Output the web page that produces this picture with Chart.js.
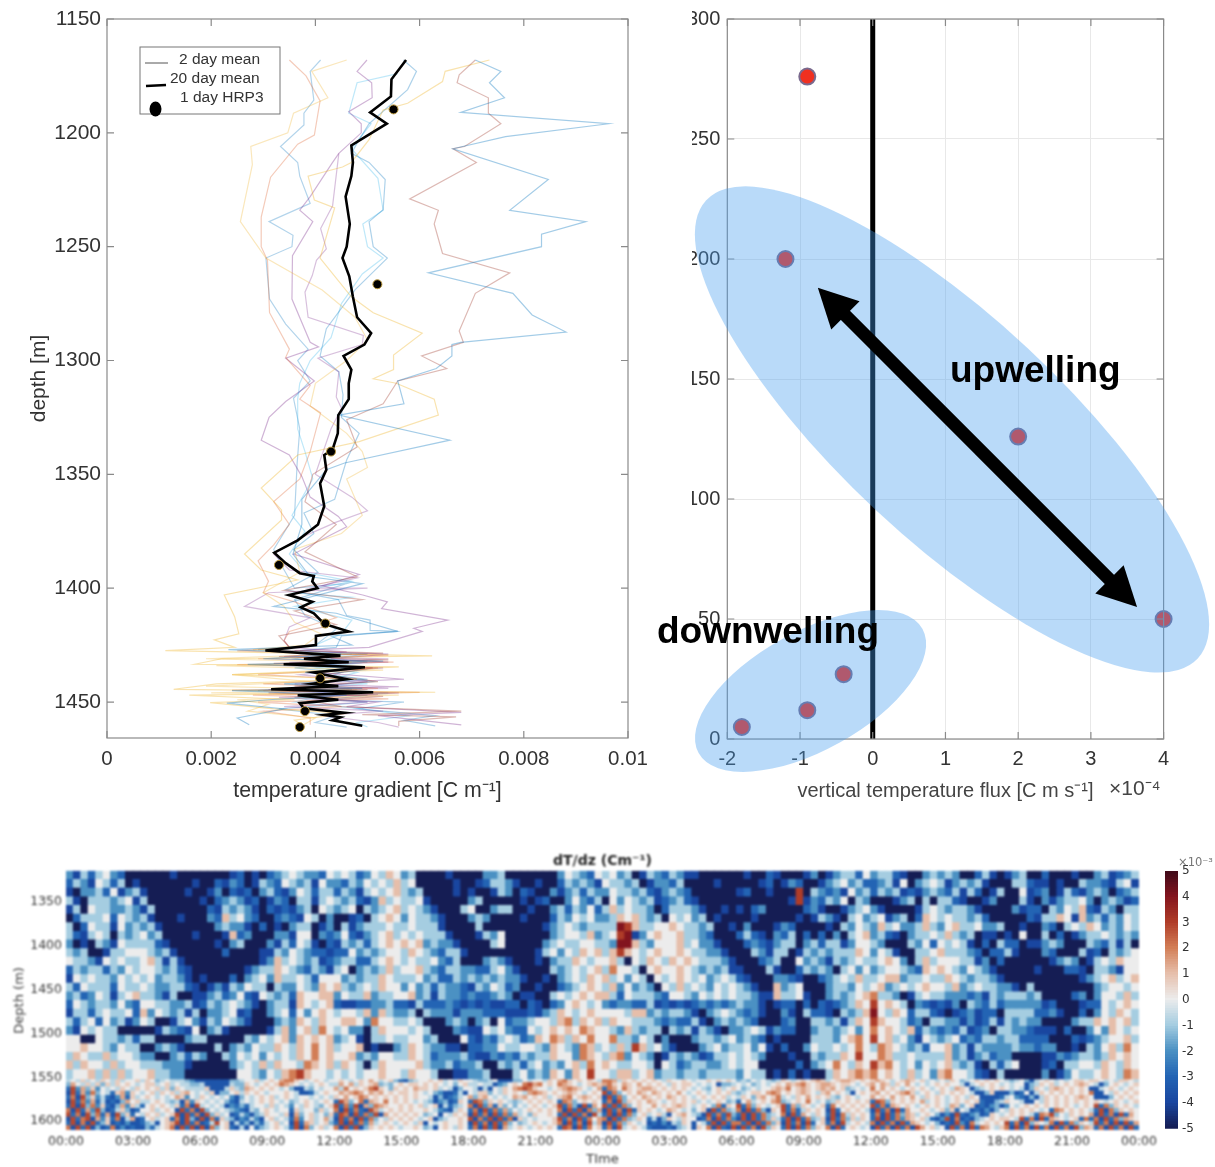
<!DOCTYPE html>
<html>
<head>
<meta charset="utf-8">
<title>Temperature gradient and flux</title>
<script src="https://cdn.jsdelivr.net/npm/chart.js@4/dist/chart.umd.js"></script>
<style>
  html, body { margin: 0; padding: 0; background: #fff; }
  body { position: relative; width: 1215px; height: 1167px; overflow: hidden; }
  canvas { position: absolute; }
  #heat { filter: blur(0.9px); }
  #grad, #flux { filter: blur(0.4px); }
</style>
</head>
<body>
<canvas id="grad" width="670" height="820" style="left:0;top:0"></canvas>
<canvas id="flux" width="575" height="820" style="left:640px;top:0"></canvas>
<canvas id="heat" width="1215" height="327" style="left:0;top:840px"></canvas>
<canvas id="cbar" width="65" height="290" style="left:1150px;top:850px"></canvas>
<script>
// left panel: [gradient x 1e-3, depth]
const gradBlueFar = [[7.07,1168],[7.56,1173],[7.34,1178],[7.63,1184.6],[6.79,1191],[9.63,1196],[7.65,1201.7],[6.64,1207],[8.47,1220.5],[7.73,1234],[9.19,1239],[8.34,1244.5],[8.34,1250],[6.17,1261.5],[7.79,1270.5],[8.16,1280],[8.81,1287.5],[6.79,1292],[6.62,1293],[6.62,1298],[6.32,1303.5],[5.58,1309],[5.7,1319],[4.45,1324],[6.58,1335],[4.56,1345],[4.21,1348],[3.74,1361],[3.74,1372],[3.57,1385],[3.9,1395],[4.9,1398],[3.2,1408],[4.4,1411],[5.58,1419],[4.3,1421],[4.7,1425],[2.33,1427],[4.5,1429],[3.0,1431],[5.3,1432],[2.7,1433.5],[4.8,1435],[3.8,1437],[5.0,1440],[3.4,1442],[4.9,1444],[2.4,1445],[4.6,1447],[3.1,1449],[2.3,1450.5],[3.4,1453],[2.5,1457],[2.73,1460]];
const gradRust = [[7.07,1168],[6.76,1174.5],[6.72,1178],[7.32,1184.6],[7.32,1191.4],[7.56,1196],[6.86,1206],[6.64,1207],[7.09,1213],[5.81,1229],[6.36,1234],[6.28,1240],[6.44,1253],[7.73,1261.5],[7.07,1270.5],[6.76,1287],[6.84,1292],[6.04,1298],[6.52,1303.5],[5.58,1309],[5.3,1319],[4.6,1326],[4.8,1338],[3.95,1350],[3.8,1362],[4.4,1372],[3.8,1384],[4.8,1395],[3.4,1401],[4.9,1405],[3.6,1410],[4.4,1416],[3.3,1421],[3.5,1426],[3.1,1427],[5.3,1428.5],[3.3,1430],[5.4,1431.5],[3.2,1433],[5.1,1435],[4.2,1438],[5.2,1441],[3.6,1443],[5.0,1444.5],[3.1,1446],[5.3,1447.5],[3.9,1449.5],[4.5,1452],[6.8,1454],[4.9,1455.5],[6.7,1456.5],[5.6,1458.5],[5.6,1460.5]];
const gradYellowRight = [[7.34,1168],[6.49,1173],[6.44,1177.5],[5.77,1187],[5.3,1190],[5.03,1203],[4.69,1213],[4.52,1215],[3.86,1219],[3.98,1229.5],[4.37,1233],[4.09,1255],[4.69,1272],[5.11,1279],[6.05,1288],[5.5,1297.6],[5.5,1304],[5.11,1308],[5.55,1310],[6.28,1317],[6.36,1324],[4.84,1335.6],[3.66,1341.5],[2.96,1356],[3.35,1365.6],[3.35,1370],[2.64,1385],[2.96,1392],[3.66,1396.4],[2.25,1403],[2.45,1412.5],[2.53,1420],[2.06,1422.7],[2.45,1426],[1.12,1427.4],[6.24,1429.7],[2.2,1431],[1.69,1433.4],[5.6,1434.6],[2.4,1438],[4.8,1440],[2.1,1442],[1.28,1444.4],[6.3,1445.7],[1.58,1447],[3.6,1449],[1.98,1450.3],[3.2,1453],[4.6,1455],[3.6,1458],[3.8,1461]];
const gradYellowLeft = [[4.6,1168],[3.93,1173],[4.24,1184.6],[3.58,1191.4],[3.47,1200],[2.76,1206],[2.79,1214],[2.56,1239],[3.05,1255],[4.13,1269],[4.76,1281],[5.0,1291],[4.6,1300],[4.0,1310],[3.9,1320],[4.6,1332],[4.9,1340],[5.0,1347],[4.6,1352],[4.9,1368],[4.5,1376],[3.6,1383],[3.7,1393],[3.0,1402],[3.4,1408],[3.6,1415],[4.1,1420],[3.8,1425],[2.8,1427],[4.4,1429],[1.9,1431],[4.7,1432.5],[2.1,1434],[5.3,1436],[2.4,1438],[3.9,1441],[1.9,1443],[4.8,1444.6],[2.0,1446],[5.6,1447],[2.5,1449],[3.1,1451],[2.7,1454],[4.0,1457],[3.7,1461]];
const gradOrange = [[3.5,1168],[3.82,1175],[4.09,1186],[3.98,1201],[3.66,1205],[3.14,1219.5],[2.96,1237],[2.96,1250],[3.08,1256],[3.12,1279],[3.5,1295],[3.43,1298.6],[3.9,1311],[3.7,1317],[4.1,1323],[3.9,1340],[3.7,1352],[3.2,1362],[3.5,1372],[3.2,1381],[2.9,1388],[3.1,1397],[3.0,1402],[3.6,1406],[4.4,1413],[3.5,1419],[3.4,1423],[3.5,1426],[2.5,1427.5],[5.4,1429.5],[2.9,1431],[5.5,1432.5],[2.5,1433.6],[5.2,1435],[2.9,1438],[4.8,1440],[3.0,1442],[5.2,1444],[2.4,1444.8],[6.0,1445.8],[2.8,1447],[5.4,1448.6],[2.9,1450],[4.5,1452],[3.0,1454],[3.9,1457],[3.9,1460]];
const gradPurple = [[4.99,1168],[4.8,1173],[5.08,1178],[5.09,1184.6],[4.64,1190.7],[4.88,1196],[4.88,1200],[4.45,1209],[4.33,1213],[3.9,1228],[3.7,1234],[3.95,1239],[3.56,1254],[3.55,1273],[3.9,1292],[4.06,1294],[3.43,1299],[3.98,1309],[3.43,1318],[3.11,1325],[2.96,1335],[3.5,1341.5],[3.74,1351],[3.9,1360],[4.44,1368.5],[4.6,1373],[3.58,1385],[4.84,1394],[4.13,1399],[4.91,1403],[5.38,1406],[5.27,1409],[6.54,1414],[5.89,1417.6],[6.05,1419],[5.03,1426],[3.6,1427.4],[5.4,1429],[4.3,1431],[5.4,1432.5],[3.5,1433.8],[5.3,1435],[4.0,1437],[5.7,1440],[3.6,1442],[5.6,1443.3],[3.1,1444.5],[5.6,1446],[3.9,1448],[5.2,1450],[4.6,1452],[6.8,1454.6],[5.2,1456],[6.8,1460]];
const gradPurpleMid = [[4.45,1209],[4.33,1232],[4.1,1242],[4.21,1251],[4.02,1256],[3.94,1262.7],[3.8,1270],[3.86,1281],[4.92,1289],[4.9,1293],[4.05,1299],[4.45,1305],[4.4,1316],[4.5,1321],[4.3,1330],[4.0,1350],[4.7,1360],[5.0,1366],[4.4,1371],[3.7,1378],[3.2,1385],[3.5,1392],[4.8,1395.5],[3.9,1400],[5.0,1400],[3.1,1402],[2.64,1408],[3.9,1413],[3.5,1417],[3.4,1423],[3.5,1426],[4.6,1428],[3.4,1430],[5.4,1431],[3.5,1432.6],[4.9,1435],[3.7,1438],[5.0,1441],[4.1,1443],[5.4,1444],[3.0,1445],[5.2,1446.6],[3.3,1448],[5.0,1450],[3.4,1452],[5.3,1454],[4.1,1456],[5.2,1459],[5.6,1461]];
const gradBlueMid = [[5.69,1168],[5.94,1173],[5.77,1181],[5.03,1196],[4.84,1203],[4.69,1209],[5.03,1213],[5.34,1220.5],[5.3,1233.8],[5.03,1239],[5.11,1250],[5.38,1255],[4.76,1269],[4.21,1286],[4.09,1298],[4.45,1305],[4.53,1315],[4.5,1325],[4.84,1332],[4.6,1343.7],[4.37,1361],[3.78,1367],[3.97,1376],[3.58,1383],[4.05,1393],[3.43,1400.7],[4.44,1405],[4.6,1412],[5.05,1414],[5.05,1418.5],[5.58,1419],[4.5,1421],[4.4,1426],[3.7,1427.4],[5.0,1429],[4.2,1431],[5.0,1432.5],[4.0,1434],[4.9,1436],[4.1,1438],[5.1,1441],[4.0,1443],[4.7,1444.4],[3.5,1445],[5.0,1447],[4.2,1449],[5.7,1450],[4.8,1453],[6.3,1456],[5.7,1458],[6.3,1460.5]];
const gradCyan = [[5.58,1174],[4.8,1178],[4.64,1191.4],[5.07,1196],[4.69,1207],[5.2,1220],[5.3,1234],[4.91,1240],[5.0,1250],[5.3,1255],[4.9,1262],[4.5,1275],[4.3,1290],[3.9,1300],[3.7,1310],[3.66,1317],[3.66,1330],[3.8,1340],[3.95,1352],[3.55,1368],[3.8,1375],[3.5,1385],[3.8,1393],[4.7,1397],[3.6,1402],[4.7,1404],[3.6,1408],[4.7,1414],[4.5,1420],[4.0,1425],[3.3,1427],[4.7,1429],[3.9,1431],[4.8,1433],[4.0,1435],[4.8,1437],[4.3,1440],[5.0,1442],[3.5,1444],[4.7,1446],[4.0,1448],[3.6,1450],[4.9,1453],[5.8,1456],[4.8,1459],[5.0,1461]];
const gradSteel = [[4.1,1168],[3.9,1173],[3.97,1185.6],[3.78,1191.4],[3.78,1196.5],[3.33,1206],[3.66,1213],[3.7,1219],[3.9,1231],[3.11,1239],[3.57,1245],[3.55,1250],[3.05,1255],[3.12,1273],[3.43,1284],[3.86,1295],[3.66,1300],[3.9,1309],[3.58,1316.6],[3.7,1330],[3.65,1345],[3.6,1368],[3.2,1383],[3.4,1392],[3.6,1400],[4.6,1398],[3.6,1405],[3.8,1412],[4.4,1418],[4.0,1425],[2.9,1427],[4.1,1429],[3.6,1431],[4.5,1433],[3.6,1435],[4.5,1437],[4.0,1441],[4.4,1443],[2.9,1445],[5.4,1446],[3.6,1448],[5.0,1450],[3.3,1453],[4.4,1456],[4.0,1459],[4.6,1461]];
const gradMean20 = [[5.74,1168],[5.46,1176.5],[5.45,1184],[5.05,1191],[5.37,1196],[4.69,1205.5],[4.72,1213],[4.69,1219],[4.58,1228],[4.66,1240],[4.6,1250],[4.52,1255],[4.65,1263],[4.72,1272],[4.8,1281],[5.07,1288],[4.94,1293],[4.54,1298],[4.69,1304],[4.64,1310],[4.64,1317],[4.44,1324],[4.43,1332],[4.33,1339],[4.17,1341.5],[4.21,1348],[4.09,1354],[4.17,1364],[4.05,1372],[3.66,1379],[3.21,1384.4],[3.43,1389],[3.7,1393.4],[3.97,1394.6],[3.94,1397],[4.04,1400],[3.49,1403],[3.94,1406],[3.72,1408.4],[3.97,1411],[4.17,1415.7],[4.64,1419],[4.01,1421],[4.01,1425],[3.04,1427.4],[4.48,1429.6],[3.78,1431],[4.64,1432.5],[3.39,1433.4],[4.95,1434.7],[3.97,1437],[4.6,1440],[3.94,1442],[4.44,1443],[3.15,1444.4],[5.11,1445.7],[3.66,1447],[4.44,1449],[3.7,1450.5],[3.78,1452.7],[4.56,1454.7],[4.17,1455.7],[4.48,1456.7],[4.33,1458],[4.9,1460.4]];
const hrp3Points = [[5.5,1189.7],[5.19,1266.5],[4.3,1340],[3.3,1389.8],[4.19,1415.5],[4.09,1439.6],[3.8,1454],[3.7,1461]];
const gradTicks = [0,2,4,6,8,10];
const depthTicks = [1150,1200,1250,1300,1350,1400,1450];

// right panel
const fluxValues = [-0.9,-1.2,2,4,-0.4,-0.9,-1.8];
const fluxDepths = [276,200,126,50,27,12,5];
const fluxXTicks = [-2,-1,0,1,2,3,4];
const fluxYTicks = [0,50,100,150,200,250,300];

// bottom panel, one digit per cell: digit - 5 = dT/dz x 1e-3
// upper part, 1315-1551 m: 20 min columns, top row first
const heatBlockA = [
"314245320 000001000 000012010 234543325",
"243154240 100000001 002132014 325434153",
"103342513 410000010 013021203 421354244",
"410444345 140000000 102343120 132044145",
"140544334 314000000 021434310 212134054",
"024445254 341000100 032645320 023215403",
"402544153 434100000 003433102 010344013",
"421454043 453400001 000162300 033155032",
"301043154 444210000 001034000 314254102",
"434001445 554341000 000200001 143543221",
"544315454 456414100 000000001 364543412",
"243442435 455434210 000000134 465432431",
"154544354 545344310 100020345 364454255",
"425444254 454334421 013143544 043354365",
"342354145 644314001 134235215 434265566",
"254344353 255443341 243454310 344165456",
"144245445 263543414 033451200 345253565",
"424525341 354001453 143543100 034365465",
"315454400 000143215 034100000 146356475",
"550054434 244000034 400000435 456365656",
"556554354 400343100 004034354 465465756",
"465446455 433003424 300435453 545465756",
"646554645 544433310 000034546 465547656",
"455646464 556443300 000005543 546786554"];
const heatBlockB = [
"454235465 340000100 003340000 000354325",
"324354546 450000010 012443100 100243431",
"243145456 434000010 100143021 003134243",
"434213645 445100000 340000010 120035324",
"345043456 454310004 500344001 003424352",
"001204565 354431000 343000010 002435453",
"041344454 454441000 040000000 013454344",
"352134564 545444100 014350000 003455463",
"143424565 656343310 000450000 034544554",
"225343455 465432441 000000000 145354656",
"344224565 454453240 003431000 103446545",
"450343464 556432443 322453100 004345456",
"534344654 445342243 434343310 010345465",
"643454655 353424332 143542300 100234565",
"354463445 563414332 322343011 004545656",
"211223342 214222321 212112202 102356545",
"455463643 340433313 332221112 134654565",
"566537554 454000343 034052334 554674656",
"453304655 545400032 115453225 456565765",
"345104454 455340005 213245423 657646575",
"455601003 465433110 223354455 436543764",
"556343554 465423334 211323243 446553765",
"465404655 556433423 340043424 534356475",
"545455655 465540011 334000453 436536585"];
const heatBlockC = [
"453401432 431100000 010021000 130134425",
"544340133 240000100 000120132 001345342",
"354434213 432000000 120010008 043231534",
"053543412 342100000 000000018 132435043",
"464544302 444310010 102300000 231001345",
"346564340 545340100 001000001 014310453",
"449864455 654434001 030001320 000104354",
"458913565 564432000 242103240 202030456",
"439964355 564533100 023213440 342441355",
"468654565 565443310 004314401 434344465",
"564054654 656544431 000234005 343143454",
"475540565 565434341 100041002 434304535",
"645354054 565453454 210003321 002345464",
"463534305 464543545 431006345 000344354",
"642544432 554354545 443116445 100343456",
"323322412 121232323 433101220 202123465",
"555466343 443103454 323100310 422104346",
"465544432 322410343 432000230 044341465",
"543643440 434143103 345413220 034434535",
"574435403 000344345 343201000 044435675",
"546486453 100034534 453510200 354454575",
"467354301 434312445 454300010 043446585",
"654455405 423443345 455000002 034575465",
"546645634 434434444 354401020 100465676"];
const heatBlockD = [
"344210034 343002410 134002000 100341234",
"234150345 413434100 044211010 043321451",
"243412134 324142014 005123014 213430234",
"000134040 442100130 004103134 453034312",
"310000145 434431000 031220435 462143044",
"451340265 454434200 000214465 163424354",
"364533464 356445334 001003204 546534354",
"342103445 464340110 105004020 134454343",
"430004352 545410204 220113430 004324140",
"354100445 644432022 410003200 041204345",
"456530464 555441302 000000134 301454655",
"345543265 654354310 000010002 210443155",
"456634454 465434431 000000000 013456456",
"563454565 546345443 310400000 000345545",
"744301454 433323143 444340000 230355464",
"856540321 213043242 333331200 012254565",
"954652442 101231220 444422310 020354654",
"865542304 433131241 434330000 344656564",
"756546243 232412304 433211102 003536545",
"856453154 345232443 442222000 212345564",
"476543425 563414333 343323300 104356475",
"576445444 463413423 300001132 344346565",
"867545354 564341042 450001204 455465465",
"756546453 675542104 000003013 544565476"];
// lower part, 1551-1610 m: finer, 40/3 min columns
const heatDeepA = [
"454645465 464556465 345444320 000000334 556456578 865456545",
"375464636 465654566 456454433 400000433 654565687 654545654",
"192736254 546546565 646365444 460004643 765656545 300435455",
"091728354 167265456 465646754 546033564 656545556 540014565",
"180936241 027164565 454576254 654545203 545656456 545545454",
"091827140 103756445 654340726 545453104 545656545 345654565",
"190938261 037264156 565461809 454540213 145546454 254654356",
"809172930 146301556 456509180 935454321 043565455 164553645",
"918093817 093615465 645690918 093645014 203465546 073564536",
"091890726 180470156 456180930 908164302 142056454 182564574",
"190809136 010200134 056790918 014956041 303145645 091764563",
"809190301 802010031 456809190 908356104 051345654 190835645"];
const heatDeepB = [
"565456575 456310345 565645465 543345000 335455465 786565654",
"475746567 343565665 656545356 445440235 658978565 876545676",
"748565689 653656576 656454035 540405465 789865545 678765457",
"576787576 756566565 453200140 546635465 654787656 567654565",
"657568756 565656565 540301245 736754545 767565645 678567656",
"197358176 585656545 430230165 198365654 345656565 187356565",
"918290738 765565656 456041345 809271635 354565456 918309175",
"809181097 456565655 654210465 180918273 545656565 809190837",
"198091829 075656565 345054656 091809182 745365565 190918094",
"091809183 546565654 560345565 908190918 064545556 918091857",
"190918274 565456546 054565565 091809183 534565456 809180947",
"809190365 656545565 340565465 180919074 565456565 198091856"];
const heatDeepC = [
"887465656 565465565 455656565 343545434 654565676 456776565",
"786576575 656546566 545450334 545345456 576786567 765665456",
"187586567 765656565 454356456 534545567 685676567 675634545",
"918356576 576565754 565456564 345665787 565676546 756540565",
"091835657 656576565 456565645 465367568 454657565 643565455",
"180936565 765456565 645456534 157456578 345658545 346565656",
"919183565 575656765 456538165 918365456 917365456 185656565",
"091809165 654576545 356091834 809183065 918146565 091565654",
"190918356 456405675 430918193 190918345 809175465 190846565",
"809183465 140365465 501809182 090918364 190918346 091836465",
"091836545 010204365 054190918 819091836 091809156 180945654",
"180945654 100010345 065809109 091809365 190918365 809156545"];
const heatDeepD = [
"676545676 564545465 345656565 434530456 545456656 654546654",
"757646575 454565655 404565654 545503465 645656765 403565456",
"857565456 565456547 650345656 545403654 676565650 045654565",
"675656786 456546565 654003600 030150465 656565658 005465656",
"756575657 546565456 546500001 452103046 565656765 000356565",
"198365656 574565456 565610034 655400546 565656565 654565456",
"918176565 456565476 356010230 254565656 565654565 918365654",
"091809175 565456361 540102035 465656545 187565654 190836565",
"180918376 456530209 102301654 565654187 935465657 091809175",
"190918276 564102908 010345656 654918091 765456181 809183765",
"809180917 654530109 208456565 918093654 809183654 918090917",
"091809180 975645091 809187546 809180918 091809376 180918091"];
// the deep digits were read coarsely, their swing is about 0.7 of the digit range
const deepSwing = 0.7;
const heatDepthTicks = [1350,1400,1450,1500,1550,1600];
const timeTicks = [0,3,6,9,12,15,18,21,24,27,30,33,36,39,42,45,48];
const timeLabels = ['00:00','03:00','06:00','09:00','12:00','15:00','18:00','21:00','00:00','03:00','06:00','09:00','12:00','15:00','18:00','21:00','00:00'];
const colorbarTicks = [-5,-4,-3,-2,-1,0,1,2,3,4,5];

Chart.defaults.font.family = '"Liberation Sans", sans-serif';
Chart.defaults.animation = false;
Chart.defaults.responsive = false;
Chart.defaults.devicePixelRatio = 1;
Chart.defaults.plugins.legend.display = false;
Chart.defaults.plugins.tooltip.enabled = false;

const toXY = (pairs) => pairs.map((p) => ({ x: p[0], y: p[1] }));
const thinLine = (pairs, color) => ({
  data: toXY(pairs), showLine: true, borderColor: color, borderWidth: 1.2,
  pointRadius: 0, order: 3,
});
const plainTick = (v) => String(v);

// gray box with inward ticks on all four sides
const boxTicks = {
  id: 'boxTicks',
  afterDatasetsDraw(chart) {
    const { ctx, chartArea: a, scales: { x, y } } = chart;
    ctx.save();
    ctx.strokeStyle = '#8a8a8a';
    ctx.lineWidth = 1.2;
    ctx.strokeRect(a.left, a.top, a.right - a.left, a.bottom - a.top);
    ctx.beginPath();
    x.ticks.forEach((t) => {
      const p = x.getPixelForValue(t.value);
      ctx.moveTo(p, a.bottom); ctx.lineTo(p, a.bottom - 7);
      ctx.moveTo(p, a.top); ctx.lineTo(p, a.top + 7);
    });
    y.ticks.forEach((t) => {
      const p = y.getPixelForValue(t.value);
      ctx.moveTo(a.left, p); ctx.lineTo(a.left + 7, p);
      ctx.moveTo(a.right, p); ctx.lineTo(a.right - 7, p);
    });
    ctx.stroke();
    ctx.restore();
  },
};

// hand made legend of the left panel
const gradLegend = {
  id: 'gradLegend',
  afterDraw(chart) {
    const { ctx } = chart;
    ctx.save();
    ctx.fillStyle = '#fff';
    ctx.strokeStyle = '#777';
    ctx.lineWidth = 1;
    ctx.fillRect(140, 47, 140, 67);
    ctx.strokeRect(140, 47, 140, 67);
    ctx.strokeStyle = '#555';
    ctx.beginPath(); ctx.moveTo(145, 63); ctx.lineTo(168, 63); ctx.stroke();
    ctx.strokeStyle = '#000';
    ctx.lineWidth = 2.6;
    ctx.beginPath(); ctx.moveTo(146, 86); ctx.lineTo(166, 85); ctx.stroke();
    ctx.fillStyle = '#000';
    ctx.beginPath(); ctx.ellipse(155.5, 109, 6, 7.5, 0, 0, Math.PI * 2); ctx.fill();
    ctx.fillStyle = '#333';
    ctx.font = '15.5px "Liberation Sans"';
    ctx.textBaseline = 'middle';
    ctx.fillText('2 day mean', 179, 60);
    ctx.fillText('20 day mean', 170, 79);
    ctx.fillText('1 day HRP3', 180, 98);
    ctx.restore();
  },
};

const fluxOverlay = {
  id: 'fluxOverlay',
  afterDraw(chart) {
    const { ctx, scales: { x, y } } = chart;
    ctx.save();
    // the tick labels are cut on the left in the original
    ctx.fillStyle = '#fff';
    ctx.fillRect(0, 0, 52, 520);
    // clusters
    ctx.fillStyle = 'rgba(69,157,240,0.376)';
    ctx.beginPath();
    ctx.ellipse(x.getPixelForValue(1.09), y.getPixelForValue(129), 336, 111, 43 * Math.PI / 180, 0, Math.PI * 2);
    ctx.fill();
    ctx.beginPath();
    ctx.ellipse(x.getPixelForValue(-0.855), y.getPixelForValue(20), 128, 59.3, -29 * Math.PI / 180, 0, Math.PI * 2);
    ctx.fill();
    // double arrow
    const x1 = x.getPixelForValue(-0.755), y1 = y.getPixelForValue(188);
    const x2 = x.getPixelForValue(3.635), y2 = y.getPixelForValue(55);
    const ang = Math.atan2(y2 - y1, x2 - x1);
    const ux = Math.cos(ang), uy = Math.sin(ang);
    ctx.strokeStyle = '#000';
    ctx.lineWidth = 13;
    ctx.beginPath();
    ctx.moveTo(x1 + ux * 30, y1 + uy * 30);
    ctx.lineTo(x2 - ux * 30, y2 - uy * 30);
    ctx.stroke();
    ctx.fillStyle = '#000';
    [[x1, y1, 1], [x2, y2, -1]].forEach(([tx, ty, s]) => {
      const bx = tx + s * ux * 39, by = ty + s * uy * 39;
      ctx.beginPath();
      ctx.moveTo(tx, ty);
      ctx.lineTo(bx - uy * 20, by + ux * 20);
      ctx.lineTo(bx + uy * 20, by - ux * 20);
      ctx.closePath();
      ctx.fill();
    });
    ctx.font = 'bold 37px "Liberation Sans"';
    ctx.textBaseline = 'middle';
    ctx.fillText('upwelling', 310, 372);
    ctx.font = 'bold 37px "Liberation Sans"';
    ctx.fillText('downwelling', 17, 633);
    ctx.fillStyle = '#444';
    ctx.font = '21px "Liberation Sans"';
    ctx.fillText('\u00d710\u207b\u2074', 469, 789);
    ctx.restore();
  },
};

new Chart(document.getElementById('grad'), {
  type: 'scatter',
  data: {
    datasets: [
      { data: toXY(hrp3Points), backgroundColor: '#000', borderColor: '#b8963c', borderWidth: 1, pointRadius: 4.5, order: 0 },
      { data: toXY(gradMean20), showLine: true, borderColor: '#000', borderWidth: 2.6, pointRadius: 0, order: 1 },
      thinLine(gradBlueFar, 'rgba(0,114,189,0.36)'),
      thinLine(gradRust, 'rgba(162,60,47,0.36)'),
      thinLine(gradYellowRight, 'rgba(237,177,32,0.36)'),
      thinLine(gradYellowLeft, 'rgba(237,177,32,0.3)'),
      thinLine(gradOrange, 'rgba(217,83,25,0.3)'),
      thinLine(gradPurple, 'rgba(126,47,142,0.36)'),
      thinLine(gradPurpleMid, 'rgba(126,47,142,0.3)'),
      thinLine(gradBlueMid, 'rgba(0,114,189,0.32)'),
      thinLine(gradCyan, 'rgba(77,190,238,0.36)'),
      thinLine(gradSteel, 'rgba(0,114,189,0.3)'),
    ],
  },
  options: {
    layout: { padding: { top: 19, right: 42 } },
    scales: {
      x: {
        type: 'linear', min: 0, max: 10,
        afterBuildTicks: (s) => { s.ticks = gradTicks.map((v) => ({ value: v })); },
        afterFit: (s) => { s.height = 82; },
        grid: { display: false, drawTicks: false },
        border: { display: false },
        ticks: { padding: 9, color: '#333', font: { size: 20.5 }, maxRotation: 0, callback: (v) => String(v / 1000) },
        title: { display: true, text: 'temperature gradient [C m\u207b\u00b9]', color: '#333', font: { size: 21.3 }, padding: { top: 0, bottom: 16 } },
      },
      y: {
        type: 'linear', reverse: true, min: 1150, max: 1465.8,
        afterBuildTicks: (s) => { s.ticks = depthTicks.map((v) => ({ value: v })); },
        afterFit: (s) => { s.width = 107; },
        grid: { display: false, drawTicks: false },
        border: { display: false },
        ticks: { padding: 6, color: '#333', font: { size: 21 }, callback: plainTick },
        title: { display: true, text: 'depth [m]', color: '#333', font: { size: 21 }, padding: { top: 27, bottom: 0 } },
      },
    },
  },
  plugins: [boxTicks, gradLegend],
});

new Chart(document.getElementById('flux'), {
  type: 'scatter',
  data: {
    datasets: [
      { data: fluxValues.map((v, i) => ({ x: v, y: fluxDepths[i] })), backgroundColor: '#f03020', borderColor: '#7a6a8e', borderWidth: 2, pointRadius: 8, clip: false, order: 0 },
      { data: [{ x: 0, y: 0 }, { x: 0, y: 300 }], showLine: true, borderColor: '#000', borderWidth: 5, pointRadius: 0, order: 1 },
    ],
  },
  options: {
    layout: { padding: { top: 19, right: 51.4 } },
    scales: {
      x: {
        type: 'linear', min: -2, max: 4,
        afterBuildTicks: (s) => { s.ticks = fluxXTicks.map((v) => ({ value: v })); },
        afterFit: (s) => { s.height = 81; },
        grid: { color: '#e8e8e8', drawTicks: false },
        border: { display: false },
        ticks: { padding: 8, color: '#333', font: { size: 20 }, maxRotation: 0 },
        title: { display: true, text: 'vertical temperature flux [C m s\u207b\u00b9]', color: '#444', font: { size: 20 }, padding: { top: 0, bottom: 17 } },
      },
      y: {
        type: 'linear', min: 0, max: 300,
        afterBuildTicks: (s) => { s.ticks = fluxYTicks.map((v) => ({ value: v })); },
        afterFit: (s) => { s.width = 87.3; },
        grid: { color: '#e8e8e8', drawTicks: false },
        border: { display: false },
        ticks: { padding: 7, color: '#333', font: { size: 20 } },
      },
    },
  },
  plugins: [boxTicks, fluxOverlay],
});

// colour of the dT/dz bar
const colorStops = [[21,29,84],[25,70,160],[35,100,180],[75,145,195],[165,205,225],[236,236,236],[230,190,170],[210,125,85],[175,60,40],[130,20,30],[60,10,25]];
const heatColor = (v) => {
  const t = Math.max(0, Math.min(9.999, v + 5));
  const i = Math.floor(t), f = t - i;
  const c = colorStops[i].map((k, n) => Math.round(k + (colorStops[i + 1][n] - k) * f));
  return `rgb(${c[0]},${c[1]},${c[2]})`;
};

// turn the digit rows of one block into floating bars
const addCells = (rows, blockStart, hoursPerCol, depthTop, rowSize, swing, cells, fills) => {
  rows.forEach((row, r) => {
    row.replace(/ /g, '').split('').forEach((ch, c) => {
      const d0 = depthTop + r * rowSize;
      cells.push({ x: blockStart + (c + 0.5) * hoursPerCol, y: [d0, d0 + rowSize + 0.8] });
      fills.push(heatColor((Number(ch) - 5) * swing));
    });
  });
};

const heatCells = [], heatFills = [], deepCells = [], deepFills = [];
[heatBlockA, heatBlockB, heatBlockC, heatBlockD].forEach((block, b) => {
  addCells(block, b * 12, 1 / 3, 1315, 295 / 30, 1, heatCells, heatFills);
});
[heatDeepA, heatDeepB, heatDeepC, heatDeepD].forEach((block, b) => {
  addCells(block, b * 12, 12 / 54, 1551, 59 / 12, deepSwing, deepCells, deepFills);
});

new Chart(document.getElementById('heat'), {
  type: 'bar',
  data: {
    datasets: [
      { data: heatCells, backgroundColor: heatFills, barThickness: 8 },
      { data: deepCells, backgroundColor: deepFills, barThickness: 5.4 },
    ],
  },
  options: {
    layout: { padding: { right: 76 } },
    datasets: { bar: { grouped: false } },
    plugins: {
      title: { display: true, fullSize: false, text: 'dT/dz (Cm\u207b\u00b9)', color: '#222', font: { family: '"DejaVu Sans"', size: 14, weight: 'bold' }, padding: { top: 13, bottom: 1 } },
    },
    scales: {
      x: {
        type: 'linear', min: 0, max: 48, offset: false,
        afterBuildTicks: (s) => { s.ticks = timeTicks.map((v) => ({ value: v })); },
        afterFit: (s) => { s.height = 37; },
        grid: { display: false, drawTicks: false },
        border: { display: false },
        ticks: { padding: 4, color: '#333', maxRotation: 0, font: { family: '"DejaVu Sans"', size: 12.5 }, callback: (v, i) => timeLabels[i] },
        title: { display: true, text: 'TIme', color: '#333', font: { family: '"DejaVu Sans"', size: 13 }, padding: { top: 0, bottom: 0 } },
      },
      y: {
        type: 'linear', reverse: true, min: 1315, max: 1610,
        afterBuildTicks: (s) => { s.ticks = heatDepthTicks.map((v) => ({ value: v })); },
        afterFit: (s) => { s.width = 66; },
        grid: { display: false, drawTicks: false },
        border: { display: false },
        ticks: { padding: 4, color: '#333', font: { family: '"DejaVu Sans"', size: 12.5 }, callback: plainTick },
        title: { display: true, text: 'Depth (m)', color: '#333', font: { family: '"DejaVu Sans"', size: 13 }, padding: { top: 12, bottom: 0 } },
      },
    },
  },
});

const colorbarCells = [];
const colorbarFills = [];
for (let k = 0; k < 100; k++) {
  const v = -5 + k / 10;
  colorbarCells.push({ x: 0.5, y: [v, v + 0.13] });
  colorbarFills.push(heatColor(v));
}

new Chart(document.getElementById('cbar'), {
  type: 'bar',
  data: { datasets: [{ data: colorbarCells, backgroundColor: colorbarFills, barThickness: 14 }] },
  options: {
    layout: { padding: { top: 21, bottom: 11, left: 15 } },
    scales: {
      x: { type: 'linear', min: 0, max: 1, offset: false, display: false },
      y: {
        type: 'linear', position: 'right', min: -5, max: 5,
        afterBuildTicks: (s) => { s.ticks = colorbarTicks.map((v) => ({ value: v })); },
        afterFit: (s) => { s.width = 37; },
        grid: { display: false, drawTicks: false },
        border: { display: false },
        ticks: { padding: 4, color: '#333', font: { family: '"DejaVu Sans"', size: 12 } },
      },
    },
  },
  plugins: [{
    id: 'cbarExp',
    afterDraw(chart) {
      const { ctx } = chart;
      ctx.save();
      ctx.fillStyle = '#777';
      ctx.font = '11.5px "DejaVu Sans"';
      ctx.fillText('\u00d710\u207b\u00b3', 28, 16);
      ctx.restore();
    },
  }],
});
</script>
</body>
</html>
